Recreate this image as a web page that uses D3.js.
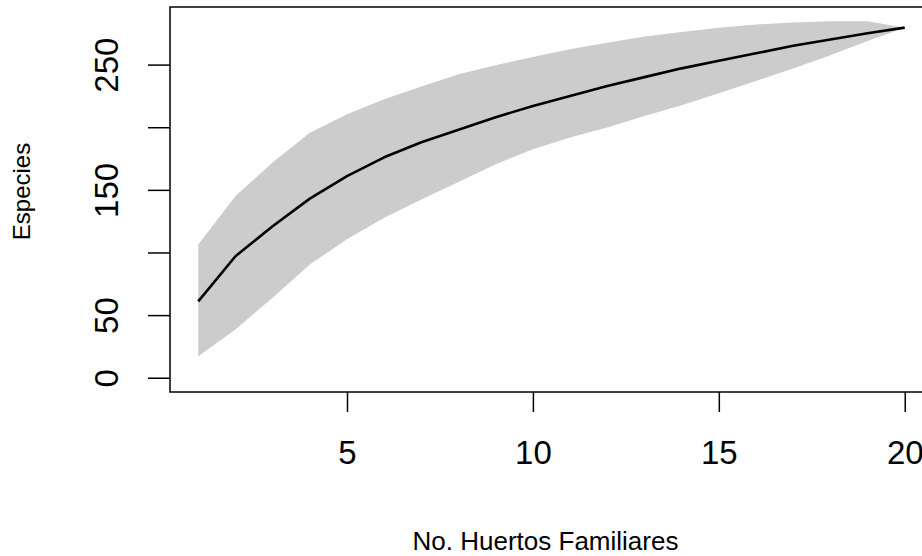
<!DOCTYPE html>
<html>
<head>
<meta charset="utf-8">
<script src="https://cdn.jsdelivr.net/npm/d3@7"></script>
<style>
  html, body { margin: 0; padding: 0; background: #fff; }
  svg { display: block; font-family: "Liberation Sans", Arial, sans-serif; }
</style>
</head>
<body>
<svg id="chart" width="922" height="556"></svg>
<script>
// Data
const sites = [1,2,3,4,5,6,7,8,9,10,11,12,13,14,15,16,17,18,19,20];
const richness = [61,97,121,143,161,176,188,198,208,217,225,233,240,247,253,259,265,270,275,279.5];
const upper = [106.4,145,171.8,195.6,210.3,222.3,232.5,242.2,249.5,256,262.2,267.5,272.4,276.1,279.5,282,283.6,284.6,284.6,279.5];
const lower = [17.2,38.6,63.9,90.5,110.5,127.8,142.4,156.2,170.4,182.5,191.7,199.7,209,217.5,227.1,236.9,246.8,257.4,268.8,279.5];
const xTicks = [5,10,15,20];
const yTicks = [0,50,100,150,200,250];
const yTickLabels = ["0","50","","150","","250"];
const xTitle = "No. Huertos Familiares";
const yTitle = "Especies";

(function(){
const svg = d3.select("#chart");
const pL = 170, pR = 933, pT = 7, pB = 392;

// R-style 4% extended ranges
const xr = d3.extent(sites), xpad = (xr[1]-xr[0])*0.04;
const yMax = d3.max(upper), yMin = 0, ypad = (yMax-yMin)*0.04;
const x = d3.scaleLinear().domain([xr[0]-xpad, xr[1]+xpad]).range([pL, pR]);
const y = d3.scaleLinear().domain([yMin-ypad, yMax+ypad]).range([pB, pT]);

const rows = sites.map((s,i)=>({s, m: richness[i], u: upper[i], l: lower[i]}));

// band
svg.append("path")
  .datum(rows)
  .attr("fill", "#cccccc")
  .attr("stroke", "none")
  .attr("d", d3.area().x(d=>x(d.s)).y0(d=>y(d.l)).y1(d=>y(d.u)));

// mean line
svg.append("path")
  .datum(rows)
  .attr("fill", "none")
  .attr("stroke", "#000")
  .attr("stroke-width", 2.6)
  .attr("stroke-linejoin", "round")
  .attr("d", d3.line().x(d=>x(d.s)).y(d=>y(d.m)));

// box
svg.append("rect")
  .attr("x", pL).attr("y", pT)
  .attr("width", pR-pL).attr("height", pB-pT)
  .attr("fill", "none").attr("stroke", "#000").attr("stroke-width", 1.5);

// x axis
const xAxis = d3.axisBottom(x).tickValues(xTicks).tickSize(20).tickPadding(0).tickFormat(d3.format("d"));
const gx = svg.append("g").attr("transform", `translate(0,${pB})`).call(xAxis);
gx.select(".domain").remove();
gx.selectAll(".tick line").attr("stroke", "#000").attr("stroke-width", 1.5);
gx.selectAll(".tick text")
  .attr("y", 72).attr("dy", null)
  .attr("font-size", 33).attr("font-family", "Liberation Sans, Arial, sans-serif")
  .attr("fill", "#000");

// y axis
const yAxis = d3.axisLeft(y).tickValues(yTicks).tickSize(22).tickPadding(0).tickFormat((d,i)=>yTickLabels[i]);
const gy = svg.append("g").attr("transform", `translate(${pL},0)`).call(yAxis);
gy.select(".domain").remove();
gy.selectAll(".tick line").attr("stroke", "#000").attr("stroke-width", 1.5);
gy.selectAll(".tick text")
  .attr("x", null).attr("dy", null)
  .attr("transform", "translate(-52,0) rotate(-90)")
  .attr("text-anchor", "middle")
  .attr("font-size", 33).attr("font-family", "Liberation Sans, Arial, sans-serif")
  .attr("fill", "#000");

// titles
svg.append("text")
  .attr("x", (pL+pR)/2 - 6).attr("y", 550)
  .attr("text-anchor", "middle")
  .attr("font-size", 26)
  .attr("fill", "#000")
  .text(xTitle);

svg.append("text")
  .attr("transform", `translate(30,${(pT+pB)/2 - 8}) rotate(-90)`)
  .attr("text-anchor", "middle")
  .attr("font-size", 24)
  .attr("fill", "#000")
  .text(yTitle);
})();
</script>
</body>
</html>
